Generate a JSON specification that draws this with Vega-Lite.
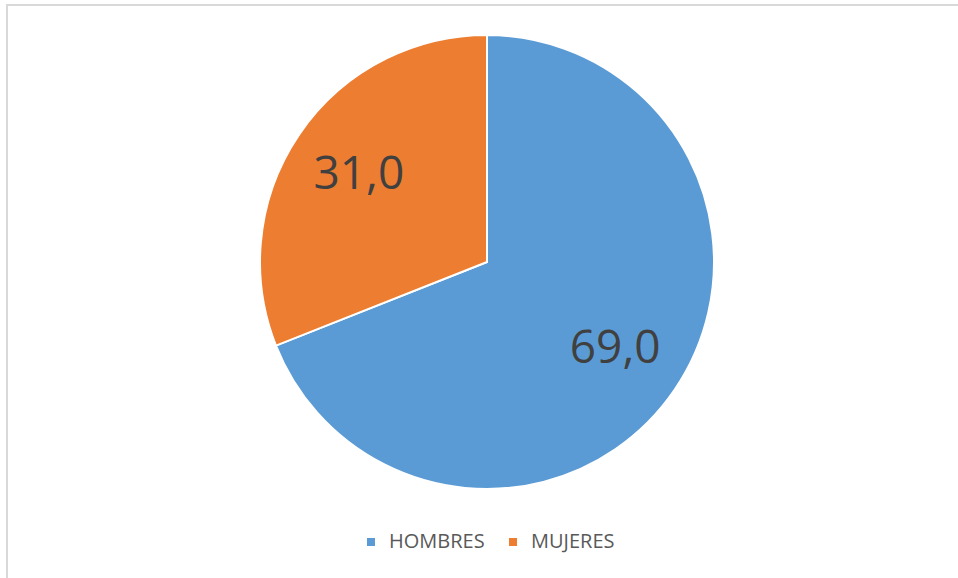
{
  "$schema": "https://vega.github.io/schema/vega-lite/v6.json",
  "autosize": {"type": "none"},
  "padding": {"left": 7, "top": 5, "right": 0, "bottom": 0},
  "width": 960,
  "height": 600,
  "background": "white",
  "config": {
    "view": {"stroke": null},
    "font": "Open Sans"
  },
  "data": {
    "values": [
      {"sexo": "HOMBRES", "valor": 69.0, "orden": 1, "etiqueta": "69,0"},
      {"sexo": "MUJERES", "valor": 31.0, "orden": 2, "etiqueta": "31,0"}
    ]
  },
  "layer": [
    {
      "data": {"values": [{"marco": 1}]},
      "mark": {"type": "rect", "fill": null, "stroke": "#d9d9d9", "strokeWidth": 2},
      "encoding": {}
    },
    {
      "mark": {"type": "arc", "outerRadius": 227, "stroke": "white", "strokeWidth": 2, "yOffset": -43},
      "encoding": {
        "theta": {"field": "valor", "type": "quantitative", "stack": true},
        "order": {"field": "orden", "type": "quantitative"},
        "color": {
          "field": "sexo",
          "type": "nominal",
          "scale": {"domain": ["HOMBRES", "MUJERES"], "range": ["#5B9BD5", "#ED7D31"]},
          "legend": {
            "title": null,
            "orient": "none",
            "direction": "horizontal",
            "legendX": 354,
            "legendY": 527,
            "symbolType": "square",
            "symbolSize": 64,
            "symbolStrokeWidth": 0,
            "labelFontSize": 20,
            "labelColor": "#595959",
            "labelFont": "Open Sans",
            "labelOffset": 8,
            "columnPadding": 18
          }
        }
      }
    },
    {
      "mark": {"type": "text", "radius": 155, "yOffset": -43, "fontSize": 46, "color": "#404040", "align": "center", "baseline": "middle", "font": "Open Sans"},
      "encoding": {
        "theta": {"field": "valor", "type": "quantitative", "stack": true},
        "order": {"field": "orden", "type": "quantitative"},
        "text": {"field": "etiqueta", "type": "nominal"}
      }
    }
  ]
}
